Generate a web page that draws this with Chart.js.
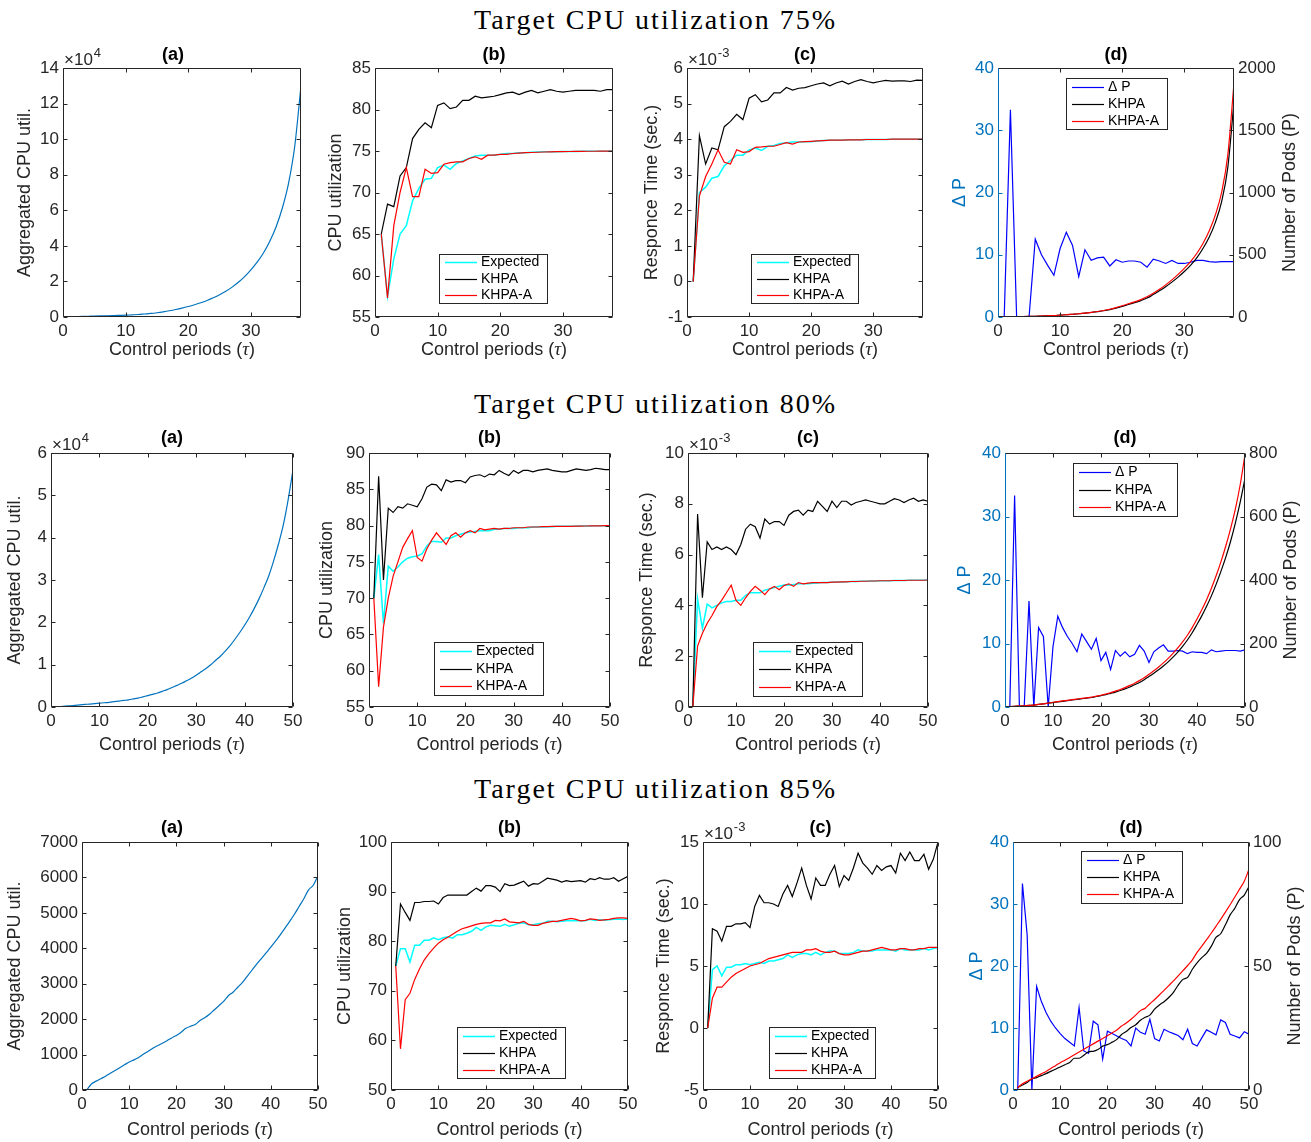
<!DOCTYPE html>
<html>
<head>
<meta charset="utf-8">
<script src="https://cdn.jsdelivr.net/npm/chart.js@4.4.0/dist/chart.umd.min.js"></script>
<style>
  body{margin:0;background:#fff;width:1311px;height:1142px;position:relative;overflow:hidden}
  .sup{position:absolute;left:0;width:1311px;text-align:center;font-family:"Liberation Serif","Times New Roman",serif;font-size:28px;letter-spacing:2px;color:#000;line-height:32px}
  canvas{position:absolute}
</style>
</head>
<body>
<div class="sup" style="top:4px">Target CPU utilization 75%</div>
<div class="sup" style="top:388px">Target CPU utilization 80%</div>
<div class="sup" style="top:773px">Target CPU utilization 85%</div>
<script>
/* ========= DATA ========= */
const periods38 = [1,2,3,4,5,6,7,8,9,10,11,12,13,14,15,16,17,18,19,20,21,22,23,24,25,26,27,28,29,30,31,32,33,34,35,36,37,38];
const periods50 = [1,2,3,4,5,6,7,8,9,10,11,12,13,14,15,16,17,18,19,20,21,22,23,24,25,26,27,28,29,30,31,32,33,34,35,36,37,38,39,40,41,42,43,44,45,46,47,48,49,50];

// target 75% (aggregated in x10^4, response time in x10^-3 s)
const agg75    = [0.01,0.02,0.03,0.04,0.05,0.06,0.07,0.08,0.09,0.1,0.12,0.14,0.17,0.2,0.24,0.29,0.35,0.42,0.5,0.59,0.69,0.8,0.93,1.08,1.25,1.45,1.68,1.95,2.27,2.65,3.08,3.6,4.25,5.05,6.1,7.5,9.6,13.0];
const cpuExp75 = [65,57.5,62,65,66,69,70.5,71.6,71.7,73,73.3,72.8,73.5,73.8,74.1,74.4,74.5,74.5,74.5,74.6,74.7,74.7,74.8,74.8,74.85,74.88,74.9,74.9,74.92,74.93,74.94,74.95,74.96,74.97,74.97,74.98,74.98,74.99];
const cpuK75   = [65,68.6,68.3,72,73,76.5,77.6,78.4,77.8,80.5,80.8,80.1,80.3,81.1,81.1,81.6,81.4,81.5,81.6,81.8,82.0,82.1,81.8,82.1,82.3,82.0,82.2,82.4,82.2,82.1,82.2,82.3,82.3,82.3,82.3,82.2,82.4,82.4];
const cpuKA75  = [65,57.3,66,70,73,69.5,69.5,72.8,72.3,72.4,73.4,73.6,73.7,73.7,74.1,74.3,74.0,74.5,74.5,74.6,74.6,74.7,74.75,74.8,74.82,74.85,74.88,74.9,74.92,74.93,74.94,74.95,74.96,74.97,74.97,74.98,74.98,74.99];
const rtExp75  = [0,2.5,2.65,2.9,2.95,3.25,3.4,3.55,3.55,3.7,3.75,3.68,3.8,3.82,3.88,3.9,3.92,3.92,3.93,3.93,3.95,3.96,3.97,3.97,3.97,3.98,3.98,3.98,3.99,3.99,3.99,3.99,4.0,4.0,4.0,4.0,4.0,4.0];
const rtK75    = [0,4.1,3.3,3.75,3.7,4.35,4.5,4.7,4.55,5.15,5.25,5.05,5.1,5.3,5.3,5.45,5.38,5.43,5.45,5.5,5.55,5.58,5.5,5.58,5.63,5.55,5.62,5.67,5.62,5.58,5.62,5.65,5.63,5.64,5.64,5.62,5.66,5.65];
const rtKA75   = [0,2.4,2.95,3.3,3.7,3.35,3.3,3.7,3.63,3.65,3.77,3.78,3.8,3.8,3.85,3.9,3.86,3.92,3.93,3.94,3.95,3.96,3.97,3.97,3.97,3.98,3.98,3.98,3.99,3.99,3.99,3.99,4.0,4.0,4.0,4.0,4.0,4.0];
const dP75     = [0,33.3,0,0,0,12.5,10,8.3,6.7,11,13.6,11.5,6.5,10.8,9.1,9.5,9.6,8.2,9.2,8.8,9.0,9.0,8.8,8.0,9.3,9.0,8.6,9.1,8.6,8.6,8.8,9.1,9.1,8.9,8.8,8.9,8.9,8.9];
const podsK75  = [1,2,3,4,5,6,8,10,12,15,18,22,26,31,36,43,50,59,71,85,100,115,132,152,180,210,243,280,320,365,415,475,550,640,760,925,1200,1730];
const podsKA75 = [1,2,3,4,5,6,8,10,12,15,18,22,26,31,37,44,52,62,75,90,106,122,140,162,190,222,258,298,342,390,445,510,590,690,820,1000,1300,1880];

// target 80%
const agg80    = [0.0,0.01,0.02,0.03,0.04,0.05,0.06,0.07,0.08,0.09,0.1,0.11,0.125,0.14,0.155,0.17,0.19,0.21,0.24,0.27,0.3,0.33,0.37,0.41,0.46,0.51,0.56,0.62,0.68,0.75,0.83,0.91,1.0,1.1,1.2,1.32,1.45,1.6,1.76,1.93,2.12,2.33,2.56,2.82,3.1,3.45,3.85,4.3,4.9,5.6];
const cpuExp80 = [70,76,66.5,74.4,73.7,74.3,75,75.5,75.7,75.8,76.1,77.2,77.8,77.8,77.7,78.3,78.3,78.6,78.8,79.0,79.1,79.2,79.3,79.3,79.3,79.5,79.5,79.6,79.6,79.6,79.7,79.7,79.7,79.8,79.8,79.8,79.85,79.85,79.9,79.9,79.9,79.9,79.92,79.93,79.94,79.95,79.96,79.97,79.98,79.98];
const cpuK80   = [70,86.8,72.5,82.4,81.8,82.6,82.4,83,82.8,82.6,83.7,85.3,85.7,85.6,84.8,86.3,86.0,86.2,86.2,85.9,86.7,86.9,87.0,86.7,87.1,87.0,87.6,87.2,86.9,87.6,87.2,87.6,87.6,87.4,87.6,87.7,87.8,87.6,87.5,87.4,87.4,87.6,87.8,87.7,87.6,87.7,87.9,87.8,87.7,87.7];
const cpuKA80  = [70,57.8,66,70,73,75,77,78.2,79.3,75.6,75.1,76.8,78,79,78.2,77.4,78.6,79.0,78.4,79.0,79.3,79.0,79.6,79.4,79.5,79.6,79.5,79.6,79.6,79.7,79.7,79.7,79.8,79.8,79.8,79.85,79.85,79.9,79.9,79.9,79.9,79.9,79.92,79.93,79.94,79.95,79.96,79.97,79.98,79.98];
const rtExp80  = [0,4.25,3.1,4.05,3.9,4.0,4.1,4.15,4.15,4.2,4.2,4.4,4.5,4.5,4.5,4.6,4.65,4.7,4.75,4.8,4.8,4.82,4.85,4.85,4.85,4.87,4.88,4.9,4.9,4.91,4.92,4.92,4.93,4.94,4.94,4.95,4.95,4.96,4.96,4.97,4.97,4.97,4.98,4.98,4.98,4.99,4.99,4.99,4.99,5.0];
const rtK80    = [0,7.6,4.3,6.5,6.2,6.3,6.2,6.3,6.2,6.0,6.4,7.0,7.2,7.1,6.65,7.4,7.2,7.3,7.3,7.15,7.55,7.7,7.75,7.55,7.75,7.7,8.1,7.9,7.7,8.1,7.85,8.1,8.1,7.95,8.05,8.1,8.15,8.1,8.05,8.0,8.0,8.1,8.2,8.15,8.05,8.15,8.22,8.1,8.15,8.1];
const rtKA80   = [0,2.4,2.9,3.3,3.6,3.95,4.2,4.5,4.8,4.2,4.0,4.3,4.55,4.75,4.6,4.42,4.65,4.75,4.62,4.78,4.85,4.75,4.9,4.85,4.88,4.9,4.9,4.9,4.9,4.92,4.92,4.93,4.93,4.94,4.94,4.95,4.95,4.96,4.96,4.97,4.97,4.97,4.98,4.98,4.98,4.99,4.99,4.99,4.99,5.0];
const dP80     = [0,33.3,0,0,16.7,0,12.5,11.1,0,9.5,14.3,12.5,11.1,10,8.7,11.5,10.3,9.1,10.8,7.3,8.6,5.9,8.9,8.0,8.7,7.9,8.3,9.7,8.8,7.0,8.7,9.3,9.8,8.8,8.8,8.9,8.8,8.4,8.7,8.6,8.6,8.4,9.0,8.7,8.8,8.9,8.9,8.9,8.8,9.0];
const podsK80  = [1,2,3,4,5,6,8,10,12,14,16,18,20,22,24,26,28,30,33,36,39,43,47,52,57,63,70,77,86,96,106,117,129,142,157,173,191,211,234,260,287,317,350,387,428,472,522,580,645,720];
const podsKA80 = [1,2,3,4,5,6,8,10,12,15,17,19,21,23,25,27,29,31,34,37,41,45,50,55,61,68,75,83,92,103,114,126,139,153,169,186,205,226,250,277,306,338,374,414,458,507,562,624,700,795];

// target 85%
const agg85    = [0,170,250,320,390,470,550,630,710,790,850,920,1010,1090,1180,1250,1320,1390,1470,1540,1630,1740,1800,1850,1960,2040,2140,2260,2380,2500,2660,2760,2900,3040,3210,3380,3550,3710,3870,4030,4200,4380,4570,4760,4960,5180,5400,5650,5780,6050];
const cpuExp85 = [75,78.5,78.5,75.8,79.2,79.2,80.2,80.2,80.7,80.3,80.7,80.9,80.6,81.3,81.3,81.6,82.0,82.8,82.2,82.9,83.2,83.1,83.0,83.4,83.0,83.3,83.6,83.7,83.3,83.3,83.5,83.6,84.0,84.0,83.9,84.0,84.1,84.1,84.1,84.1,84.1,84.4,84.2,84.3,84.2,84.3,84.4,84.5,84.4,84.5];
const cpuK85   = [75,87.5,85.8,84.2,87.8,87.8,88.0,88.0,88.1,87.5,88.8,89.3,89.3,89.3,89.3,89.3,90.0,90.7,90.1,91.2,91.2,90.9,90.0,91.6,91.2,91.3,91.7,92.1,91.1,91.6,91.5,92.1,92.7,92.5,92.3,91.9,92.2,92.0,92.1,92.2,91.9,92.6,92.4,92.8,92.5,92.5,92.8,92.1,92.6,93.1];
const cpuKA85  = [75,58.3,68.2,69.5,72.3,74.4,76.2,77.5,78.6,79.6,80.3,80.8,81.4,82.0,82.5,82.8,83.1,83.4,83.6,83.7,83.7,84.2,84.1,84.5,83.9,83.8,83.7,84.0,83.4,83.2,83.2,83.6,83.8,84.0,84.0,84.2,84.4,84.6,84.4,84.1,84.2,84.5,84.4,84.2,84.3,84.4,84.6,84.7,84.7,84.6];
const rtExp85  = [0,4.7,5.0,4.2,4.9,4.9,5.1,5.1,5.2,5.1,5.2,5.3,5.2,5.4,5.4,5.5,5.6,5.9,5.7,5.9,6.0,6.0,5.9,6.1,5.9,6.1,6.2,6.2,6.0,6.0,6.0,6.1,6.3,6.2,6.2,6.2,6.3,6.3,6.3,6.3,6.2,6.4,6.3,6.3,6.3,6.3,6.4,6.3,6.4,6.5];
const rtK85    = [0,8.0,7.8,7.0,8.2,8.2,8.4,8.4,8.5,8.1,9.8,10.7,10.1,10.1,10.0,9.8,10.8,11.5,10.6,11.7,12.9,11.5,10.4,12.1,11.5,11.5,12.4,13.1,11.4,12.3,11.9,12.9,14.1,13.3,12.9,12.4,13.1,12.7,13.0,13.1,12.5,14.1,13.5,14.2,13.5,13.5,14.0,12.8,13.6,15.0];
const rtKA85   = [0,2.4,3.3,3.3,3.7,4.1,4.4,4.6,4.8,5.0,5.1,5.2,5.4,5.6,5.7,5.8,5.9,6.0,6.1,6.1,6.1,6.3,6.3,6.4,6.2,6.1,6.1,6.2,6.0,5.9,5.9,6.0,6.1,6.2,6.2,6.3,6.4,6.5,6.4,6.3,6.3,6.4,6.4,6.3,6.3,6.4,6.4,6.5,6.5,6.5];
const dP85     = [0,33.3,25,0,16.7,14.3,12.5,11.1,10,9.1,8.3,7.7,7.1,13.3,6.3,5.9,11.1,10.5,5.0,9.5,9.1,8.7,8.3,8.0,7.1,10.0,9.3,9.0,11.4,8.3,7.9,9.8,9.4,9.1,8.8,8.1,9.8,7.5,7.1,8.4,9.7,9.3,8.9,11.3,10.9,9.0,8.7,8.4,9.4,9.0];
const podsK85  = [1,2,3,4.5,5,5.8,6.6,7.5,8.4,9.3,10.2,11.1,12.8,12.8,14.0,15.4,15.6,16.3,17.7,18.3,19.3,20.4,22.4,23.6,25.2,26.3,28.1,29.3,30.2,32.6,34.3,35.6,37.3,39.4,42.3,44.6,45.4,48.7,51.3,53.4,55.1,57.9,61.5,63.0,66.6,70.6,73.3,76.8,78.6,82];
const podsKA85 = [1,2.5,3.5,4.5,5.5,6.5,7.5,8.7,9.8,11,12,13.1,14.2,15.3,16.4,17.5,18.6,19.7,20.8,21.9,23,24.2,25.8,27,28.5,30.2,32,33,34.8,36.5,38.3,40.2,42.1,44,46,48.1,50.2,52.5,55.5,58,60.6,63.2,66,68.8,71.7,74.7,77.8,81,84.2,89];

// tick labels
const xTicks38   = [0,10,20,30];
const xTicks50   = [0,10,20,30,40,50];
const aggTicks75 = [0,2,4,6,8,10,12,14];
const aggTicks80 = [0,1,2,3,4,5,6];
const aggTicks85 = [0,1000,2000,3000,4000,5000,6000,7000];
const cpuTicks75 = [55,60,65,70,75,80,85];
const cpuTicks80 = [55,60,65,70,75,80,85,90];
const cpuTicks85 = [50,60,70,80,90,100];
const rtTicks75  = [-1,0,1,2,3,4,5,6];
const rtTicks80  = [0,2,4,6,8,10];
const rtTicks85  = [-5,0,5,10,15];
const dpTicks    = [0,10,20,30,40];
const podTicks75 = [0,500,1000,1500,2000];
const podTicks80 = [0,200,400,600,800];
const podTicks85 = [0,50,100];

/* ========= STYLE ========= */
const FONT = '"Liberation Sans", Arial, Helvetica, sans-serif';
const AX = '#262626';
const C_EXP = '#00FFFF', C_K = '#000000', C_KA = '#FF0000', C_DP = '#0000FF', C_A = '#0072BD';
const PADL = 95, PADT = 50, PADB = 62, PADR = 22, PADR2 = 72;

function line(label, xs, ys, color, extra){
  return Object.assign({
    label, data: xs.map((x,i)=>({x, y: ys[i]})),
    borderColor: color, backgroundColor: color, borderWidth: 1.2,
    pointRadius: 0, tension: 0, fill: false
  }, extra || {});
}

function yScale(ticks, pos, color){
  return {
    type:'linear', position:pos, min:ticks[0], max:ticks[ticks.length-1],
    afterBuildTicks: s => { s.ticks = ticks.map(v=>({value:v})); },
    afterFit: s => { s.width = pos === 'left' ? PADL : PADR2; },
    grid:{display:false, drawTicks:false, tickLength:0}, border:{display:false},
    ticks:{color, font:{family:FONT,size:17}, padding:4, autoSkip:false, callback:v=>String(v)}
  };
}
function xScale(ticks, max){
  return {
    type:'linear', min:0, max,
    afterBuildTicks: s => { s.ticks = ticks.map(v=>({value:v})); },
    afterFit: s => { s.height = PADB; },
    grid:{display:false, drawTicks:false, tickLength:0}, border:{display:false},
    ticks:{color:AX, font:{family:FONT,size:17}, padding:4, autoSkip:false, maxRotation:0, callback:v=>String(v)}
  };
}

/* ========= AXES BOX / LABELS / LEGEND ========= */
function frame(sp){
  return {
    id:'frame',
    afterDraw(chart){
      const {ctx, chartArea:a} = chart;
      const ox = sp.cx, oy = sp.cy, T = 4;
      ctx.save();
      ctx.lineWidth = 1;
      const L = a.left+0.5, R = a.right-0.5, Tp = a.top+0.5, B = a.bottom-0.5;
      // x ticks (bottom + top)
      const xs = chart.scales.x;
      ctx.strokeStyle = AX; ctx.beginPath();
      xs.ticks.forEach(t=>{ const p = Math.round(xs.getPixelForValue(t.value))+0.5;
        ctx.moveTo(p,B); ctx.lineTo(p,B-T); ctx.moveTo(p,Tp); ctx.lineTo(p,Tp+T); });
      ctx.stroke();
      const ys = chart.scales.y, y1 = chart.scales.y1;
      ctx.strokeStyle = y1 ? C_A : AX; ctx.beginPath();
      ys.ticks.forEach(t=>{ const p = Math.round(ys.getPixelForValue(t.value))+0.5;
        ctx.moveTo(L,p); ctx.lineTo(L+T,p); if(!y1){ ctx.moveTo(R,p); ctx.lineTo(R-T,p); } });
      ctx.stroke();
      if (y1){
        ctx.strokeStyle = AX; ctx.beginPath();
        y1.ticks.forEach(t=>{ const p = Math.round(y1.getPixelForValue(t.value))+0.5; ctx.moveTo(R,p); ctx.lineTo(R-T,p); });
        ctx.stroke();
      }
      // box
      ctx.strokeStyle = AX; ctx.beginPath();
      ctx.moveTo(L,Tp); ctx.lineTo(R,Tp); ctx.lineTo(R,B); ctx.lineTo(L,B); ctx.stroke();
      ctx.strokeStyle = y1 ? C_A : AX; ctx.beginPath(); ctx.moveTo(L,Tp); ctx.lineTo(L,B); ctx.stroke();

      // subplot title
      ctx.fillStyle = '#000'; ctx.textBaseline = 'middle'; ctx.textAlign = 'center';
      ctx.font = 'bold 18px ' + FONT;
      ctx.fillText(sp.title, (sp.titleX !== undefined ? sp.titleX - ox : (a.left+a.right)/2), sp.titleY - oy);

      // x label with italic tau
      const parts = [['Control periods (', '18px '+FONT], ['\u03C4', 'italic 19px "Liberation Serif", serif'], [')', '18px '+FONT]];
      let tw = 0; parts.forEach(p=>{ ctx.font = p[1]; tw += ctx.measureText(p[0]).width; });
      let px = (a.left+a.right)/2 - tw/2; ctx.textAlign = 'left'; ctx.fillStyle = AX;
      parts.forEach(p=>{ ctx.font = p[1]; ctx.fillText(p[0], px, sp.xlabY - oy); px += ctx.measureText(p[0]).width; });

      // y labels
      const vlab = (text, x, color) => {
        ctx.save(); ctx.translate(x - ox, (a.top+a.bottom)/2); ctx.rotate(-Math.PI/2);
        ctx.textAlign = 'center'; ctx.textBaseline = 'middle'; ctx.font = '18px '+FONT; ctx.fillStyle = color; ctx.fillText(text, 0, 0); ctx.restore();
      };
      vlab(sp.ylab, sp.ylabX, y1 ? C_A : AX);
      if (sp.y2lab) vlab(sp.y2lab, sp.y2labX, AX);

      // exponent
      if (sp.exp){
        ctx.textAlign = 'left'; ctx.textBaseline = 'alphabetic'; ctx.fillStyle = AX;
        ctx.font = '17px '+FONT; const base = '\u00D710';
        ctx.fillText(base, a.left+1, a.top-3);
        const bw = ctx.measureText(base).width;
        ctx.font = '13px '+FONT; ctx.fillText(sp.exp, a.left+1+bw+1, a.top-11);
      }

      // legend
      if (sp.legend){
        const [x0,y0,x1,y1b] = sp.legend;
        const x = x0-ox, y = y0-oy, w = x1-x0, h = y1b-y0;
        ctx.fillStyle = '#fff'; ctx.fillRect(x,y,w,h);
        ctx.strokeStyle = AX; ctx.lineWidth = 1; ctx.strokeRect(x+0.5,y+0.5,w,h);
        const ds = chart.data.datasets;
        ctx.textBaseline = 'middle'; ctx.textAlign = 'left'; ctx.font = '14px '+FONT;
        ds.forEach((d,i)=>{
          const yy = Math.round(y + h*(i+0.5)/ds.length)+0.5;
          ctx.strokeStyle = d.borderColor; ctx.lineWidth = d.borderWidth;
          ctx.beginPath(); ctx.moveTo(x+6,yy); ctx.lineTo(x+38,yy); ctx.stroke();
          ctx.fillStyle = '#000'; ctx.fillText(d.label, x+42, yy);
        });
      }
      ctx.restore();
    }
  };
}

function panel(sp){
  const [l,t,r,b] = sp.box;
  const pr = sp.y2Ticks ? PADR2 : PADR;
  const cx = l - PADL, cy = t - PADT;
  const w = r - l + PADL + pr, h = b - t + PADT + PADB;
  const cv = document.createElement('canvas');
  cv.width = w; cv.height = h;
  cv.style.left = cx+'px'; cv.style.top = cy+'px'; cv.style.width = w+'px'; cv.style.height = h+'px';
  document.body.appendChild(cv);
  sp.cx = cx; sp.cy = cy;
  const scales = { x: xScale(sp.xTicks, sp.xMax), y: yScale(sp.yTicks, 'left', sp.y2Ticks ? C_A : AX) };
  if (sp.y2Ticks) scales.y1 = yScale(sp.y2Ticks, 'right', AX);
  new Chart(cv, {
    type:'line',
    data:{datasets: sp.datasets},
    options:{
      responsive:false, animation:false, devicePixelRatio:1,
      layout:{padding:{left:0, top:PADT, right: sp.y2Ticks ? 0 : PADR, bottom:0}},
      plugins:{legend:{display:false}, tooltip:{enabled:false}},
      scales
    },
    plugins:[frame(sp)]
  });
}

function cmp(xs, e, k, ka){
  return [
    line('Expected', xs, e, C_EXP, {borderWidth:1.5, order:2}),
    line('KHPA', xs, k, C_K, {order:1}),
    line('KHPA-A', xs, ka, C_KA, {order:0})
  ];
}
function pods(xs, dp, k, ka){
  return [
    line('\u0394 P', xs, dp, C_DP, {yAxisID:'y', order:2}),
    line('KHPA', xs, k, C_K, {yAxisID:'y1', cubicInterpolationMode:'monotone', order:1}),
    line('KHPA-A', xs, ka, C_KA, {yAxisID:'y1', cubicInterpolationMode:'monotone', order:0})
  ];
}
const aggLine = (xs, ys) => [line('agg', xs, ys, C_A, {cubicInterpolationMode:'monotone'})];

/* ========= PANELS ========= */
const panels = [
  // row 75%
  {box:[63,68,301,317], xTicks:xTicks38, xMax:38, yTicks:aggTicks75, title:'(a)', titleX:173, titleY:55, xlabY:350,
   ylab:'Aggregated CPU util.', ylabX:25, exp:'4', datasets:aggLine(periods38, agg75)},
  {box:[375,68,613,317], xTicks:xTicks38, xMax:38, yTicks:cpuTicks75, title:'(b)', titleY:55, xlabY:350,
   ylab:'CPU utilization', ylabX:336, legend:[439,254,547,303], datasets:cmp(periods38, cpuExp75, cpuK75, cpuKA75)},
  {box:[687,68,923,317], xTicks:xTicks38, xMax:38, yTicks:rtTicks75, title:'(c)', titleY:55, xlabY:350,
   ylab:'Responce Time (sec.)', ylabX:652, exp:'-3', legend:[751,254,858,303], datasets:cmp(periods38, rtExp75, rtK75, rtKA75)},
  {box:[998,68,1234,317], xTicks:xTicks38, xMax:38, yTicks:dpTicks, y2Ticks:podTicks75, title:'(d)', titleY:55, xlabY:350,
   ylab:'\u0394 P', ylabX:960, y2lab:'Number of Pods (P)', y2labX:1290, legend:[1066,78,1167,129], datasets:pods(periods38, dP75, podsK75, podsKA75)},
  // row 80%
  {box:[51,453,293,707], xTicks:xTicks50, xMax:50, yTicks:aggTicks80, title:'(a)', titleY:438, xlabY:745,
   ylab:'Aggregated CPU util.', ylabX:15, exp:'4', datasets:aggLine(periods50, agg80)},
  {box:[369,453,610,707], xTicks:xTicks50, xMax:50, yTicks:cpuTicks80, title:'(b)', titleY:438, xlabY:745,
   ylab:'CPU utilization', ylabX:327, legend:[434,642,543,695], datasets:cmp(periods50, cpuExp80, cpuK80, cpuKA80)},
  {box:[688,453,928,707], xTicks:xTicks50, xMax:50, yTicks:rtTicks80, title:'(c)', titleY:438, xlabY:745,
   ylab:'Responce Time (sec.)', ylabX:647, exp:'-3', legend:[753,642,862,696], datasets:cmp(periods50, rtExp80, rtK80, rtKA80)},
  {box:[1005,453,1245,707], xTicks:xTicks50, xMax:50, yTicks:dpTicks, y2Ticks:podTicks80, title:'(d)', titleY:438, xlabY:745,
   ylab:'\u0394 P', ylabX:965, y2lab:'Number of Pods (P)', y2labX:1291, legend:[1073,463,1177,516], datasets:pods(periods50, dP80, podsK80, podsKA80)},
  // row 85%
  {box:[82,842,318,1090], xTicks:xTicks50, xMax:50, yTicks:aggTicks85, title:'(a)', titleX:172, titleY:828, xlabY:1130,
   ylab:'Aggregated CPU util.', ylabX:15, datasets:aggLine(periods50, agg85)},
  {box:[391,842,628,1090], xTicks:xTicks50, xMax:50, yTicks:cpuTicks85, title:'(b)', titleY:828, xlabY:1130,
   ylab:'CPU utilization', ylabX:345, legend:[457,1027,565,1078], datasets:cmp(periods50, cpuExp85, cpuK85, cpuKA85)},
  {box:[703,842,938,1090], xTicks:xTicks50, xMax:50, yTicks:rtTicks85, title:'(c)', titleY:828, xlabY:1130,
   ylab:'Responce Time (sec.)', ylabX:664, exp:'-3', legend:[769,1027,875,1078], datasets:cmp(periods50, rtExp85, rtK85, rtKA85)},
  {box:[1013,842,1249,1090], xTicks:xTicks50, xMax:50, yTicks:dpTicks, y2Ticks:podTicks85, title:'(d)', titleY:828, xlabY:1130,
   ylab:'\u0394 P', ylabX:977, y2lab:'Number of Pods (P)', y2labX:1295, legend:[1081,851,1182,903], datasets:pods(periods50, dP85, podsK85, podsKA85)}
];

panels.forEach(panel);
</script>
</body>
</html>
